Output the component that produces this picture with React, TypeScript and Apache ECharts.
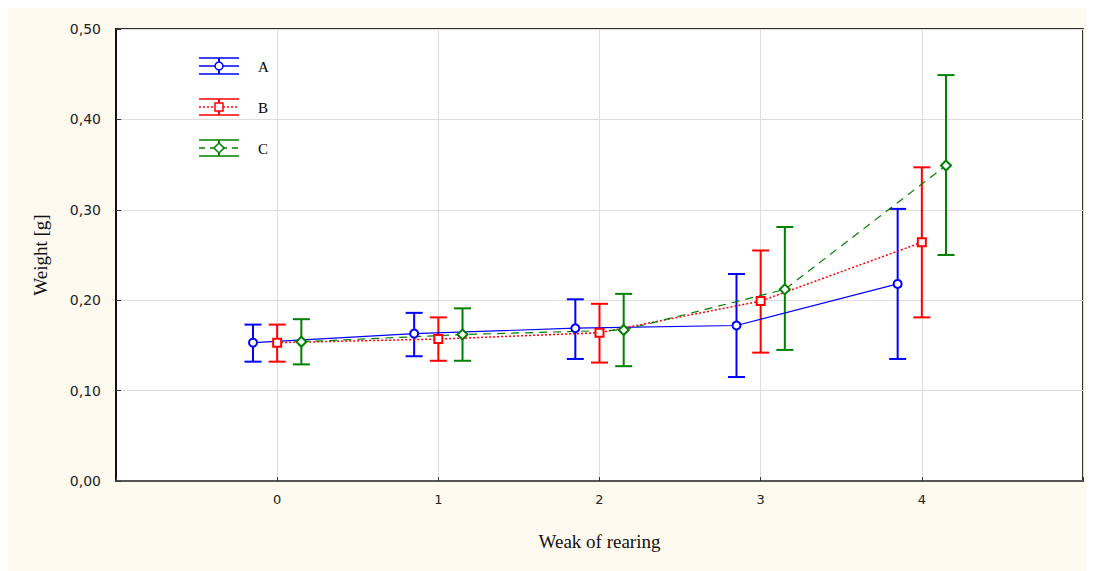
import React, { useEffect, useRef } from "react";
import * as echarts from "echarts";

const weeks = [0, 1, 2, 3, 4];
const groups = ["A", "B", "C"];
const offsets = [-0.15, 0, 0.15];
const colors = ["#0000ff", "#ff0000", "#008000"];

const meanA = [0.153, 0.163, 0.169, 0.172, 0.218];
const lowA = [0.132, 0.138, 0.135, 0.115, 0.135];
const highA = [0.173, 0.186, 0.201, 0.229, 0.301];

const meanB = [0.153, 0.157, 0.164, 0.199, 0.264];
const lowB = [0.132, 0.133, 0.131, 0.142, 0.181];
const highB = [0.173, 0.181, 0.196, 0.255, 0.347];

const meanC = [0.154, 0.162, 0.167, 0.212, 0.349];
const lowC = [0.129, 0.133, 0.127, 0.145, 0.25];
const highC = [0.179, 0.191, 0.207, 0.281, 0.449];

const yTicks = [0, 0.1, 0.2, 0.3, 0.4, 0.5];

const means = [meanA, meanB, meanC];
const lows = [lowA, lowB, lowC];
const highs = [highA, highB, highC];
const symbols = ["emptyCircle", "emptyRect", "emptyDiamond"];
const symbolSizes: any[] = [8, 8, [10, 10]];
const lineTypes: any[] = ["solid", [2, 2], [8, 6]];
const lineWidths = [1.2, 1.5, 1.2];

export default function App() {
  const ref = useRef<HTMLDivElement>(null);
  useEffect(() => {
    document.documentElement.style.overflow = "hidden";
    const chart = echarts.init(ref.current!, null, { renderer: "svg" });
    const series: any[] = [];
    groups.forEach((g, gi) => {
      const errData = weeks.map((w, i) => [w + offsets[gi], lows[gi][i], highs[gi][i]]);
      series.push({
        type: "custom",
        name: g + " err",
        data: errData,
        z: 2,
        renderItem: (params: any, api: any) => {
          const x = api.value(0);
          const lo = api.coord([x, api.value(1)]);
          const hi = api.coord([x, api.value(2)]);
          const hw = 8.5;
          const style = { stroke: colors[gi], lineWidth: 2, fill: "none" };
          return {
            type: "group",
            children: [
              { type: "line", shape: { x1: lo[0], y1: lo[1], x2: hi[0], y2: hi[1] }, style },
              { type: "line", shape: { x1: lo[0] - hw, y1: lo[1], x2: lo[0] + hw, y2: lo[1] }, style },
              { type: "line", shape: { x1: hi[0] - hw, y1: hi[1], x2: hi[0] + hw, y2: hi[1] }, style },
            ],
          };
        },
        encode: { x: 0, y: [1, 2] },
      });
      series.push({
        type: "line",
        name: g,
        data: weeks.map((w, i) => [w + offsets[gi], means[gi][i]]),
        z: 3,
        symbol: symbols[gi],
        symbolSize: symbolSizes[gi],
        showAllSymbol: true,
        itemStyle: { color: colors[gi], borderWidth: 1.3 },
        lineStyle: { color: colors[gi], width: lineWidths[gi], type: lineTypes[gi] },
      });
    });

    const legendItems: any[] = [];
    const legendY = [58, 99, 140];
    groups.forEach((g, gi) => {
      const cy = legendY[gi];
      const c = colors[gi];
      const st = { stroke: c, lineWidth: 1.5, fill: "none" };
      legendItems.push(
        { type: "line", shape: { x1: 191, y1: cy - 8, x2: 231, y2: cy - 8 }, style: st },
        { type: "line", shape: { x1: 191, y1: cy + 8, x2: 231, y2: cy + 8 }, style: st },
        { type: "line", shape: { x1: 211, y1: cy - 8, x2: 211, y2: cy + 8 }, style: { ...st, lineWidth: 2 } },
        {
          type: "line",
          shape: { x1: 191, y1: cy, x2: 231, y2: cy },
          style: { ...st, lineDash: gi === 0 ? null : gi === 1 ? [2, 2] : [6, 5] },
        }
      );
      if (gi === 0) {
        legendItems.push({ type: "circle", shape: { cx: 211, cy, r: 4 }, style: { stroke: c, lineWidth: 1.5, fill: "#fff" } });
      } else if (gi === 1) {
        legendItems.push({ type: "rect", shape: { x: 207, y: cy - 4, width: 8, height: 8 }, style: { stroke: c, lineWidth: 1.5, fill: "#fff" } });
      } else {
        legendItems.push({
          type: "polygon",
          shape: { points: [[211, cy - 5], [216, cy], [211, cy + 5], [206, cy]] },
          style: { stroke: c, lineWidth: 1.5, fill: "#fff" },
        });
      }
      legendItems.push({
        type: "text",
        x: 250,
        y: cy + 1,
        style: { text: g, fill: "#000", font: "15px 'Liberation Serif', serif", verticalAlign: "middle" },
      });
    });

    chart.setOption({
      animation: false,
      backgroundColor: "#fffaf0",
      grid: {
        left: 108,
        top: 21,
        width: 967,
        height: 452,
        show: true,
        backgroundColor: "#ffffff",
        borderColor: "#333",
        borderWidth: 2,
      },
      xAxis: {
        type: "value",
        min: -1,
        max: 5,
        interval: 1,
        name: "Weak of rearing",
        nameLocation: "middle",
        nameGap: 51,
        nameTextStyle: { fontFamily: "'Liberation Serif', serif", fontSize: 19, color: "#111" },
        axisLine: { onZero: false, lineStyle: { color: "#555", width: 2 } },
        axisTick: { inside: true, length: 4, lineStyle: { color: "#333" } },
        axisLabel: {
          margin: 12,
          fontFamily: "'DejaVu Sans', sans-serif",
          fontSize: 13,
          color: "#222",
          formatter: (v: number) => (v >= 0 && v <= 4 ? String(v) : ""),
        },
        splitLine: { show: true, lineStyle: { color: "#dddddd", width: 1 } },
      },
      yAxis: {
        type: "value",
        min: 0,
        max: 0.5,
        interval: 0.1,
        name: "Weight [g]",
        nameLocation: "middle",
        nameGap: 66,
        nameTextStyle: { fontFamily: "'Liberation Serif', serif", fontSize: 19, color: "#111" },
        axisLine: { show: true, onZero: false, lineStyle: { color: "#111", width: 2 } },
        axisTick: { show: true, inside: true, length: 5, lineStyle: { color: "#333" } },
        axisLabel: {
          margin: 15,
          fontFamily: "'DejaVu Sans', sans-serif",
          fontSize: 14,
          color: "#222",
          formatter: (v: number) => {
            const t = yTicks.find((k) => Math.abs(k - v) < 1e-9);
            return (t !== undefined ? t : v).toFixed(2).replace(".", ",");
          },
        },
        splitLine: { show: true, lineStyle: { color: "#dddddd", width: 1 } },
      },
      graphic: legendItems,
      series,
    });
    return () => chart.dispose();
  }, []);
  return <div ref={ref} style={{ width: 1078, height: 563 }} />;
}
